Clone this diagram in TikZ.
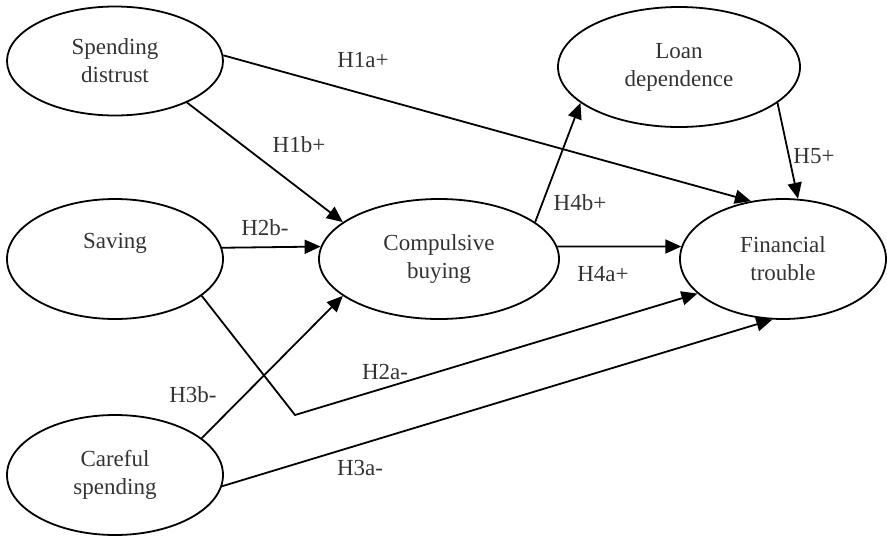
\documentclass[tikz,border=0pt]{standalone}
\usepackage{fontspec}
\setmainfont{Liberation Serif}
\usetikzlibrary{shapes.geometric,arrows.meta}
\begin{document}
\begin{tikzpicture}[x=1pt,y=-1pt,
  construct/.style={ellipse,draw,line width=1.8pt,inner sep=0pt,align=center,
    font=\fontsize{23}{28}\selectfont,text=black!80},
  link/.style={line width=1.8pt,-{Triangle[length=16pt,width=14pt]}},
  hyp/.style={font=\fontsize{23}{28}\selectfont,text=black!80,inner sep=0pt}]
\useasboundingbox (0,0) rectangle (887,536);

% constructs
\node[construct,minimum width=216,minimum height=109] (sd) at (115,61) {Spending\\distrust};
\node[construct,minimum width=216,minimum height=120] (sv) at (115,259) {Saving\\\strut};
\node[construct,minimum width=216,minimum height=120] (cs) at (115,475) {Careful\\spending};
\node[construct,minimum width=240,minimum height=120] (cb) at (439,259) {Compulsive\\buying};
\node[construct,minimum width=242,minimum height=120] (ld) at (679,67) {Loan\\dependence};
\node[construct,minimum width=206,minimum height=120] (ft) at (783,259) {Financial\\trouble};

% hypothesised paths
\coordinate (bend) at (295,415);
\draw[link] (sd.3) -- (ft.119);
\draw[link] (sd.-30) -- (cb.159);
\draw[link] (sv.6) -- (cb.174);
\draw[link] (cb.6) -- (ft.173.4);
\draw[link] (cb.21) -- (ld.200);
\draw[link] (ld.-20.6) -- (ft.76);
\draw[link] (cs.23.5) -- (cb.201.6);
\draw[link] (sv.-23) -- (bend) -- (ft.202.8);
\draw[link] (cs.-6.3) -- (ft.260.5);

% hypothesis labels
\node[hyp] (h1a) at (363,60) {H1a+};
\node[hyp] (h1b) at (299,145) {H1b+};
\node[hyp] (h2b) at (265,228) {H2b-};
\node[hyp] (h3b) at (193,395) {H3b-};
\node[hyp] (h2a) at (385,372) {H2a-};
\node[hyp] (h3a) at (360,468) {H3a-};
\node[hyp] (h4a) at (603,274) {H4a+};
\node[hyp] (h4b) at (580,203) {H4b+};
\node[hyp] (h5) at (814,156) {H5+};
\end{tikzpicture}
\end{document}
